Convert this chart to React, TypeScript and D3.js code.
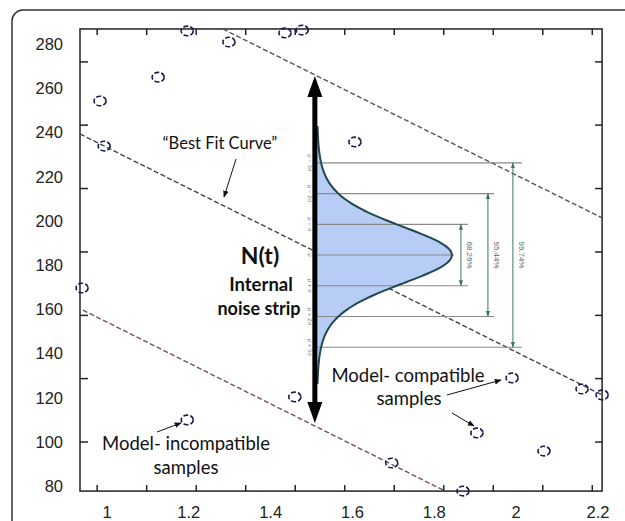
import React from 'react';
import * as d3 from 'd3';

// Axis labels (as printed) and frame tick positions (in data units)
const xTickLabels = [1, 1.2, 1.4, 1.6, 1.8, 2, 2.2];
const yTickLabels = [80, 100, 120, 140, 160, 180, 200, 220, 240, 260, 280];
const frameTicksX = [0.976, 1.097, 1.218, 1.339, 1.46, 1.581, 1.702, 1.823, 1.944, 2.065, 2.186];
const frameTicksY = [99.9, 128.6, 157.2, 185.9, 214.6, 243.3, 271.9];
const frameX = [0.934, 2.21];
const frameY = [77.7, 286.8];

// Samples
const sampleX = [1.196, 1.298, 1.435, 1.477, 1.125, 0.983, 0.993, 1.606, 0.939, 1.459, 1.196, 1.99, 2.161, 2.21, 1.904, 2.068, 1.696, 1.87];
const sampleY = [285.9, 280.9, 285.0, 286.3, 265.0, 254.2, 233.8, 235.7, 169.6, 120.3, 109.9, 128.9, 123.9, 121.2, 104.0, 95.8, 90.4, 77.7];

// Dashed lines: [x0, y0, x1, y1]
const upperLine = [1.283, 286.8, 2.21, 201.3];
const bestFitLine = [0.934, 239.3, 2.21, 121.2];
const lowerLine = [0.941, 159.6, 1.821, 78.2];

// Noise strip arrow
const stripX = 1.508;
const stripTop = 265.5;
const stripBottom = 108.5;

// Gaussian
const bellBase = 1.513;
const bellMu = 184.5;
const bellSigma = 13.9;
const bellWidth = 0.33;
const sigmaK = [-3, -2, -1, 0, 1, 2, 3];
const sigmaLabels = ['μ − 3σ', 'μ − 2σ', 'μ − σ', 'μ', 'μ + σ', 'μ + 2σ', 'μ + 3σ'];
const sigmaLineEnd = [2.014, 1.946, 1.882, 1.848, 1.882, 1.946, 2.014];
const pctK = [1, 2, 3];
const pctLabels = ['68.26%', '95.44%', '99.74%'];
const pctX = [1.865, 1.931, 1.992];

const W = 625;
const H = 521;

export default function App() {
  const x = d3.scaleLinear().domain([1, 2.2]).range([107, 598]);
  const y = d3.scaleLinear().domain([80, 280]).range([486, 44]);

  const fx0 = x(frameX[0]);
  const fx1 = x(frameX[1]);
  const fy0 = y(frameY[1]);
  const fy1 = y(frameY[0]);

  const samples = sampleX.map((v, i) => ({ x: v, y: sampleY[i] }));

  const lineGen = (l: number[]) => `M${x(l[0])},${y(l[1])}L${x(l[2])},${y(l[3])}`;

  const bellPts = d3.range(-4.2, 4.2001, 0.05).map((k) => ({
    yv: bellMu + k * bellSigma,
    xv: bellBase + bellWidth * Math.pow(1 + (k * k) / 9, -5),
  }));
  const bellArea = d3
    .area<{ yv: number; xv: number }>()
    .y((d) => y(d.yv))
    .x0(() => x(bellBase))
    .x1((d) => x(d.xv))
    .curve(d3.curveBasis)(bellPts) as string;
  const bellLine = d3
    .line<{ yv: number; xv: number }>()
    .y((d) => y(d.yv))
    .x((d) => x(d.xv))
    .curve(d3.curveBasis)(bellPts) as string;

  const sx = x(stripX);
  const st = y(stripTop);
  const sb = y(stripBottom);

  const axisFont = "'Liberation Sans', Arial, sans-serif";
  const annFont = "Lato, 'Open Sans', sans-serif";

  return (
    <svg width={W} height={H} style={{ position: 'absolute', left: 0, top: 0, background: '#fff' }}>
      <defs>
        <marker id="ah" viewBox="0 0 10 10" refX="9" refY="5" markerWidth="7" markerHeight="7" orient="auto">
          <path d="M0,1 L10,5 L0,9 Z" fill="#111" />
        </marker>
        <marker id="gh" viewBox="0 0 10 10" refX="9" refY="5" markerWidth="6" markerHeight="8" orient="auto-start-reverse">
          <path d="M0,1.5 L10,5 L0,8.5 Z" fill="#3d7565" />
        </marker>
      </defs>
      <rect x={0} y={0} width={W} height={H} fill="#fff" />
      {/* outer rounded panel */}
      <rect x={12} y={10} width={W + 20} height={H + 20} rx={11} ry={11} fill="none" stroke="#333" strokeWidth={1.5} />

      {/* plot frame */}
      <rect x={fx0} y={fy0} width={fx1 - fx0} height={fy1 - fy0} fill="none" stroke="#222" strokeWidth={1.5} />
      {frameTicksX.map((t, i) => (
        <g key={'tx' + i} stroke="#222" strokeWidth={1.5}>
          <line x1={x(t)} x2={x(t)} y1={fy1} y2={fy1 - 6} />
          <line x1={x(t)} x2={x(t)} y1={fy0} y2={fy0 + 6} />
        </g>
      ))}
      {frameTicksY.map((t, i) => (
        <g key={'ty' + i} stroke="#222" strokeWidth={1.5}>
          <line x1={fx0} x2={fx0 + 8} y1={y(t)} y2={y(t)} />
          <line x1={fx1} x2={fx1 - 7} y1={y(t)} y2={y(t)} />
        </g>
      ))}

      {/* axis labels */}
      {yTickLabels.map((t) => (
        <text key={'yl' + t} x={63} y={y(t)} dy="0.36em" textAnchor="end" fontFamily={axisFont} fontSize={16.5} fill="#222">
          {t}
        </text>
      ))}
      {xTickLabels.map((t) => (
        <text key={'xl' + t} x={x(t)} y={518} textAnchor="middle" fontFamily={axisFont} fontSize={16.5} fill="#222">
          {t}
        </text>
      ))}

      {/* dashed lines */}
      <path d={lineGen(upperLine)} stroke="#555" strokeWidth={1.4} strokeDasharray="5 2.5" fill="none" />
      <path d={lineGen(bestFitLine)} stroke="#444" strokeWidth={1.4} strokeDasharray="5 2.5" fill="none" />
      <path d={lineGen(lowerLine)} stroke="#7a5050" strokeWidth={1.4} strokeDasharray="5 2.5" fill="none" />

      {/* gaussian */}
      <path d={bellArea} fill="#b7cdf5" stroke="none" />
      {sigmaK.map((k, i) => (
        <line
          key={'sl' + k}
          x1={x(bellBase)}
          x2={x(sigmaLineEnd[i])}
          y1={y(bellMu - k * bellSigma)}
          y2={y(bellMu - k * bellSigma)}
          stroke="#8a8a8a"
          strokeWidth={1.1}
        />
      ))}
      <path d={bellLine} fill="none" stroke="#1f4850" strokeWidth={2} />
      {sigmaK.map((k, i) => (
        <text
          key={'sx' + k}
          transform={`translate(${x(stripX) - 7},${y(bellMu - k * bellSigma)}) rotate(90)`}
          textAnchor="middle"
          fontFamily={axisFont}
          fontSize={6}
          fill="#777"
        >
          {sigmaLabels[i]}
        </text>
      ))}
      {pctK.map((k, i) => (
        <g key={'pc' + k}>
          <line
            x1={x(pctX[i])}
            x2={x(pctX[i])}
            y1={y(bellMu + k * bellSigma)}
            y2={y(bellMu - k * bellSigma)}
            stroke="#3d7565"
            strokeWidth={1}
            markerStart="url(#gh)"
            markerEnd="url(#gh)"
          />
          <text
            transform={`translate(${x(pctX[i]) + 6},${y(bellMu)}) rotate(90)`}
            textAnchor="middle"
            fontFamily={axisFont}
            fontSize={8}
            fill="#666"
          >
            {pctLabels[i]}
          </text>
        </g>
      ))}

      {/* noise strip arrow */}
      <line x1={sx} x2={sx} y1={st + 18} y2={sb - 18} stroke="#000" strokeWidth={5} />
      <path d={`M${sx},${st} L${sx - 7.5},${st + 21} L${sx + 7.5},${st + 21} Z`} fill="#000" />
      <path d={`M${sx},${sb} L${sx - 7.5},${sb - 21} L${sx + 7.5},${sb - 21} Z`} fill="#000" />

      {/* samples */}
      {samples.map((d, i) => (
        <ellipse
          key={'s' + i}
          cx={x(d.x)}
          cy={y(d.y)}
          rx={6}
          ry={4.8}
          fill="none"
          stroke="#1c1c50"
          strokeWidth={1.6}
          strokeDasharray="5 2"
        />
      ))}

      {/* annotations */}
      <text x={220} y={149} textAnchor="middle" fontFamily={annFont} fontSize={16.5} fill="#111">
        “Best Fit Curve”
      </text>
      <line x1={236} y1={159} x2={224} y2={197} stroke="#111" strokeWidth={1} markerEnd="url(#ah)" />

      <text x={260} y={264} textAnchor="middle" fontFamily={annFont} fontSize={23} fontWeight={700} fill="#111">
        N(t)
      </text>
      <text x={261} y={291} textAnchor="middle" fontFamily={annFont} fontSize={18.5} fontWeight={700} fill="#111">
        Internal
      </text>
      <text x={259} y={315} textAnchor="middle" fontFamily={annFont} fontSize={18} fontWeight={700} fill="#111">
        noise strip
      </text>

      <text x={186} y={450} textAnchor="middle" fontFamily={annFont} fontSize={18.5} fill="#111">
        Model- incompatible
      </text>
      <text x={186} y={474} textAnchor="middle" fontFamily={annFont} fontSize={18.5} fill="#111">
        samples
      </text>
      <line x1={157} y1={432} x2={181} y2={423} stroke="#111" strokeWidth={1} markerEnd="url(#ah)" />

      <text x={408} y={382} textAnchor="middle" fontFamily={annFont} fontSize={18.5} fill="#111">
        Model- compatible
      </text>
      <text x={409} y={405} textAnchor="middle" fontFamily={annFont} fontSize={18.5} fill="#111">
        samples
      </text>
      <line x1={447} y1={395} x2={501} y2={380} stroke="#111" strokeWidth={1} markerEnd="url(#ah)" />
      <line x1={452} y1={413} x2={474} y2={426} stroke="#111" strokeWidth={1} markerEnd="url(#ah)" />
    </svg>
  );
}
